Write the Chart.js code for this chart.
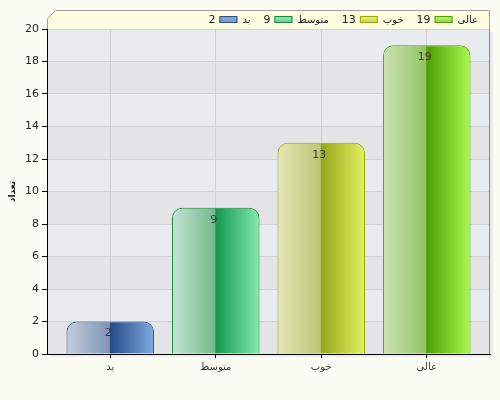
<!DOCTYPE html>
<html>
<head>
<meta charset="utf-8">
<script src="https://cdn.jsdelivr.net/npm/chart.js@4.4.0/dist/chart.umd.min.js"></script>
<style>
  html, body { margin: 0; padding: 0; background: #fbfdf4; }
  #wrap { width: 500px; height: 400px; }
</style>
</head>
<body>
<div id="wrap"><canvas id="chart" width="500" height="400"></canvas></div>
<script>
const categories = ['بد', 'متوسط', 'خوب', 'عالی'];
const counts = [2, 9, 13, 19];
const yTicks = [0, 2, 4, 6, 8, 10, 12, 14, 16, 18, 20];
const axisTitle = 'تعداد';

// [left edge, left mid, right mid, right edge, border]
const barColors = [
    ['#c4cddd', '#7f94b6', '#244a88', '#7eaae2', '#2b4f8a'],
    ['#c4e4d0', '#74ba8c', '#159650', '#84eaac', '#1a8a3a'],
    ['#e2e6b4', '#bcc676', '#97a616', '#e2f264', '#98a800'],
    ['#cce2b4', '#94c264', '#4e9e00', '#aafa54', '#50a000']
];

const barPct = 0.83;

function barFill(ctx) {
    const chart = ctx.chart;
    if (!chart.chartArea) return barColors[ctx.dataIndex][1];
    const xs = chart.scales.x;
    const cx = xs.getPixelForValue(ctx.dataIndex);
    const w = xs.getPixelForValue(1) - xs.getPixelForValue(0);
    const half = w * barPct / 2;
    const g = chart.ctx.createLinearGradient(cx - half, 0, cx + half, 0);
    const c = barColors[ctx.dataIndex];
    g.addColorStop(0, c[0]);
    g.addColorStop(0.49, c[1]);
    g.addColorStop(0.5, c[2]);
    g.addColorStop(1, c[3]);
    return g;
}

const backdrop = {
    id: 'backdrop',
    beforeDraw(chart) {
        const { ctx, chartArea: a, scales: { y } } = chart;
        ctx.save();
        ctx.fillStyle = '#ececec';
        ctx.fillRect(a.left + 3, a.top + 3, a.right - a.left, a.bottom - a.top);
        for (let i = 0; i < yTicks.length - 1; i++) {
            const top = y.getPixelForValue(yTicks[i + 1]);
            const bot = y.getPixelForValue(yTicks[i]);
            ctx.fillStyle = i % 2 === 0 ? '#e4e4e7' : '#e8ebef';
            ctx.fillRect(a.left, top, a.right - a.left, bot - top);
        }
        ctx.restore();
    },
    afterDatasetsDraw(chart) {
        const { ctx, chartArea: a } = chart;
        const meta = chart.getDatasetMeta(0);
        ctx.save();
        ctx.fillStyle = '#3c3c3c';
        ctx.font = '11px "DejaVu Sans", sans-serif';
        ctx.textAlign = 'center';
        ctx.textBaseline = 'middle';
        meta.data.forEach((bar, i) => {
            ctx.fillText(String(counts[i]), bar.x - 2, bar.y + 12);
        });
        ctx.strokeStyle = '#888';
        ctx.beginPath();
        ctx.moveTo(a.right - 0.5, a.top);
        ctx.lineTo(a.right - 0.5, a.bottom);
        ctx.stroke();
        ctx.restore();
    },
    afterDraw(chart) {
        const { ctx, chartArea: a } = chart;
        ctx.save();
        // legend box with chamfered top-left corner
        const L = a.left + 0.5, R = a.right - 0.5, T = 10.5, B = a.top;
        ctx.beginPath();
        ctx.moveTo(L, B);
        ctx.lineTo(L, T + 8);
        ctx.lineTo(L + 8, T);
        ctx.lineTo(R, T);
        ctx.lineTo(R, B);
        ctx.closePath();
        ctx.fillStyle = '#fffee0';
        ctx.fill();
        ctx.beginPath();
        ctx.moveTo(L, B);
        ctx.lineTo(L, T + 8);
        ctx.lineTo(L + 8, T);
        ctx.lineTo(R, T);
        ctx.lineTo(R, B);
        ctx.strokeStyle = '#a0a0a0';
        ctx.lineWidth = 1;
        ctx.stroke();
        ctx.textBaseline = 'middle';
        ctx.textAlign = 'right';
        let x = 478;
        for (let i = categories.length - 1; i >= 0; i--) {
            ctx.font = '10px "DejaVu Sans", sans-serif';
            ctx.fillStyle = '#222';
            ctx.fillText(categories[i], x, 20);
            x -= ctx.measureText(categories[i]).width + 5;
            const c = barColors[i];
            const g = ctx.createLinearGradient(0, 17, 0, 24);
            g.addColorStop(0, c[3]);
            g.addColorStop(1, c[1]);
            ctx.fillStyle = g;
            ctx.fillRect(x - 18, 17, 18, 6);
            ctx.strokeStyle = c[4];
            ctx.strokeRect(x - 17.5, 16.5, 17, 6);
            x -= 22;
            ctx.font = '11px "DejaVu Sans", sans-serif';
            ctx.fillStyle = '#222';
            ctx.fillText(String(counts[i]), x, 20);
            x -= ctx.measureText(String(counts[i])).width + 13;
        }
        ctx.restore();
    }
};

new Chart(document.getElementById('chart'), {
    type: 'bar',
    data: {
        datasets: [{
            data: counts.map((v, i) => ({ x: i, y: v })),
            backgroundColor: barFill,
            borderColor: barColors.map(c => c[4]),
            borderWidth: 1,
            borderRadius: { topLeft: 10, topRight: 10 },
            borderSkipped: 'bottom',
            categoryPercentage: 1,
            barPercentage: barPct
        }]
    },
    options: {
        responsive: false,
        animation: false,
        layout: { padding: { top: 29, right: 10, left: 7, bottom: 0 } },
        plugins: {
            legend: { display: false },
            tooltip: { enabled: false }
        },
        scales: {
            x: {
                type: 'linear',
                min: -0.6,
                max: 3.6,
                offset: false,
                afterFit: s => { s.height = 46; },
                afterBuildTicks: s => { s.ticks = categories.map((c, i) => ({ value: i })); },
                grid: { offset: false, color: '#d2d2d2', tickColor: '#000', tickLength: 4 },
                border: { color: '#000' },
                ticks: {
                    color: '#333',
                    font: { size: 10, family: 'DejaVu Sans' },
                    padding: 3,
                    callback: v => categories[v]
                }
            },
            y: {
                min: 0,
                max: 20,
                afterFit: s => { s.width = 40; },
                afterBuildTicks: s => { s.ticks = yTicks.map(v => ({ value: v })); },
                grid: { color: '#d2d2d2', tickColor: '#000', tickLength: 5 },
                border: { color: '#000' },
                ticks: { color: '#222', font: { size: 11, family: 'DejaVu Sans' }, padding: 3 },
                title: {
                    display: true,
                    text: axisTitle,
                    color: '#111',
                    font: { size: 9, weight: 'bold', family: 'DejaVu Sans' },
                    padding: 0
                }
            }
        }
    },
    plugins: [backdrop]
});
</script>
</body>
</html>
